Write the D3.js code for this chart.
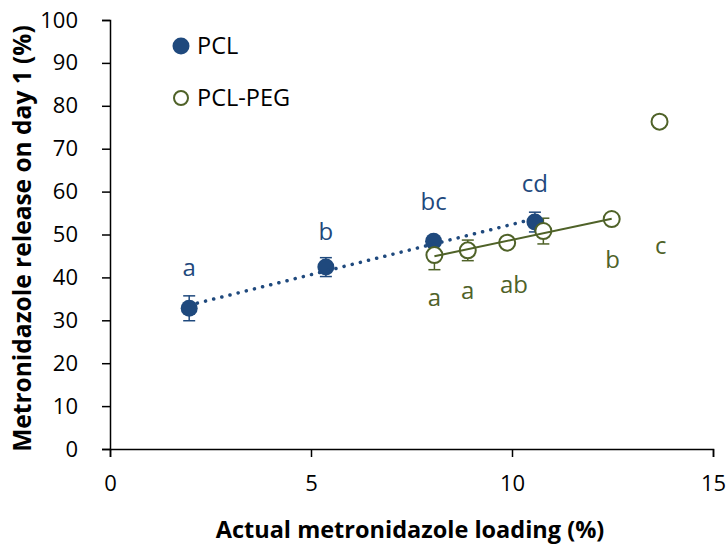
<!DOCTYPE html>
<html><head><meta charset="utf-8">
<script src="https://cdn.jsdelivr.net/npm/d3@7"></script>
<style>body{margin:0;background:#fff}svg{display:block}text{font-family:"Open Sans",sans-serif}</style>
</head><body>
<svg id="c" width="727" height="544"></svg>
<script>
// Data
const pclX = [1.97, 5.37, 8.05, 10.57];
const pclY = [32.8, 42.4, 48.4, 52.9];
const pclErr = [2.9, 2.2, 1.0, 2.3];
const pclLabels = ["a", "b", "bc", "cd"];
const pclLabelY = [42.3, 50.7, 57.7, 61.9];

const pegX = [8.07, 8.9, 9.88, 10.78, 12.48, 13.67];
const pegY = [45.2, 46.3, 48.1, 50.8, 53.6, 76.3];
const pegErr = [3.4, 2.4, 0.8, 3.0, 0.8, 0.8];
const pegLabels = ["a", "a", "ab", "b", "c"];
const pegLabelX = [8.07, 8.9, 10.05, 12.5, 13.7];
const pegLabelY = [35.3, 37.0, 38.4, 44.2, 47.3];
const pegTrendCount = 5; // points used for PCL-PEG trendline

const xTicks = [0, 5, 10, 15];
const yTicks = [0, 10, 20, 30, 40, 50, 60, 70, 80, 90, 100];

const blue = "#1F497D", green = "#4F6228";
const svg = d3.select("#c");
const m = {l:110, t:20, r:14, b:95};
const W = 727 - m.l - m.r, H = 544 - m.t - m.b;
const x = d3.scaleLinear().domain([0, 15]).range([m.l, m.l + W]);
const y = d3.scaleLinear().domain([0, 100]).range([m.t + H, m.t]);

// axes
const xa = svg.append("g").attr("transform", `translate(0,${y(0)})`)
  .call(d3.axisBottom(x).tickValues(xTicks).tickSize(8).tickPadding(18).tickFormat(d3.format("d")));
const ya = svg.append("g").attr("transform", `translate(${x(0)},0)`)
  .call(d3.axisLeft(y).tickValues(yTicks).tickSize(8).tickPadding(24).tickFormat(d3.format("d")));
[xa, ya].forEach(a => {
  a.select(".domain").attr("stroke", "#000").attr("stroke-width", 1.5);
  a.selectAll(".tick line").attr("stroke", "#000").attr("stroke-width", 1.5);
  a.selectAll(".tick text").attr("fill", "#000").style("font-size", "22px").style("font-family", '"Open Sans",sans-serif');
});

svg.append("text").attr("x", 410).attr("y", 538).attr("text-anchor", "middle")
  .style("font-size", "23.5px").style("font-weight", "bold").text("Actual metronidazole loading (%)");
svg.append("text").attr("transform", `translate(31,${(y(0)+y(100))/2 + 4}) rotate(-90)`).attr("text-anchor", "middle")
  .style("font-size", "24.5px").style("font-weight", "bold").text("Metronidazole release on day 1 (%)");

function fit(xs, ys) {
  const n = xs.length, mx = d3.mean(xs), my = d3.mean(ys);
  let sxy = 0, sxx = 0;
  for (let i = 0; i < n; i++) { sxy += (xs[i]-mx)*(ys[i]-my); sxx += (xs[i]-mx)**2; }
  const b = sxy/sxx; return {b, a: my - b*mx, x0: d3.min(xs), x1: d3.max(xs)};
}

// error bars
function errBars(xs, ys, es, col) {
  const g = svg.append("g").attr("stroke", col).attr("stroke-width", 1.5);
  xs.forEach((v, i) => {
    g.append("line").attr("x1", x(v)).attr("x2", x(v)).attr("y1", y(ys[i]-es[i])).attr("y2", y(ys[i]+es[i]));
    [ys[i]-es[i], ys[i]+es[i]].forEach(e => g.append("line").attr("x1", x(v)-6).attr("x2", x(v)+6).attr("y1", y(e)).attr("y2", y(e)));
  });
}
errBars(pclX, pclY, pclErr, blue);
errBars(pegX, pegY, pegErr, green);

// points
svg.append("g").selectAll("circle").data(pclX).join("circle")
  .attr("cx", d => x(d)).attr("cy", (d, i) => y(pclY[i])).attr("r", 8.5).attr("fill", blue);
svg.append("g").selectAll("circle").data(pegX).join("circle")
  .attr("cx", d => x(d)).attr("cy", (d, i) => y(pegY[i])).attr("r", 8).attr("fill", "#fff")
  .attr("stroke", green).attr("stroke-width", 2);

// trendlines
const f1 = fit(pclX, pclY);
svg.append("line").attr("x1", x(f1.x0)).attr("x2", x(f1.x1)).attr("y1", y(f1.a + f1.b*f1.x0)).attr("y2", y(f1.a + f1.b*f1.x1))
  .attr("stroke", blue).attr("stroke-width", 3.5).attr("stroke-linecap", "round").attr("stroke-dasharray", "0.1 8.3");
const f2 = fit(pegX.slice(0, pegTrendCount), pegY.slice(0, pegTrendCount));
svg.append("line").attr("x1", x(f2.x0)).attr("x2", x(f2.x1)).attr("y1", y(f2.a + f2.b*f2.x0)).attr("y2", y(f2.a + f2.b*f2.x1))
  .attr("stroke", green).attr("stroke-width", 2);

// letter labels
svg.append("g").selectAll("text").data(pclLabels).join("text")
  .attr("x", (d, i) => x(pclX[i])).attr("y", (d, i) => y(pclLabelY[i])).attr("dy", "0.35em")
  .attr("text-anchor", "middle").attr("fill", blue).style("font-size", "24px").text(d => d);
svg.append("g").selectAll("text").data(pegLabels).join("text")
  .attr("x", (d, i) => x(pegLabelX[i])).attr("y", (d, i) => y(pegLabelY[i])).attr("dy", "0.35em")
  .attr("text-anchor", "middle").attr("fill", green).style("font-size", "24px").text(d => d);

// legend
const lg = svg.append("g");
lg.append("circle").attr("cx", 181).attr("cy", 46).attr("r", 8.5).attr("fill", blue);
lg.append("text").attr("x", 197).attr("y", 46).attr("dy", "0.35em").style("font-size", "23.5px").text("PCL");
lg.append("circle").attr("cx", 181).attr("cy", 98).attr("r", 7).attr("fill", "#fff").attr("stroke", green).attr("stroke-width", 2);
lg.append("text").attr("x", 197).attr("y", 98).attr("dy", "0.35em").style("font-size", "23.5px").text("PCL-PEG");
</script>
</body></html>
